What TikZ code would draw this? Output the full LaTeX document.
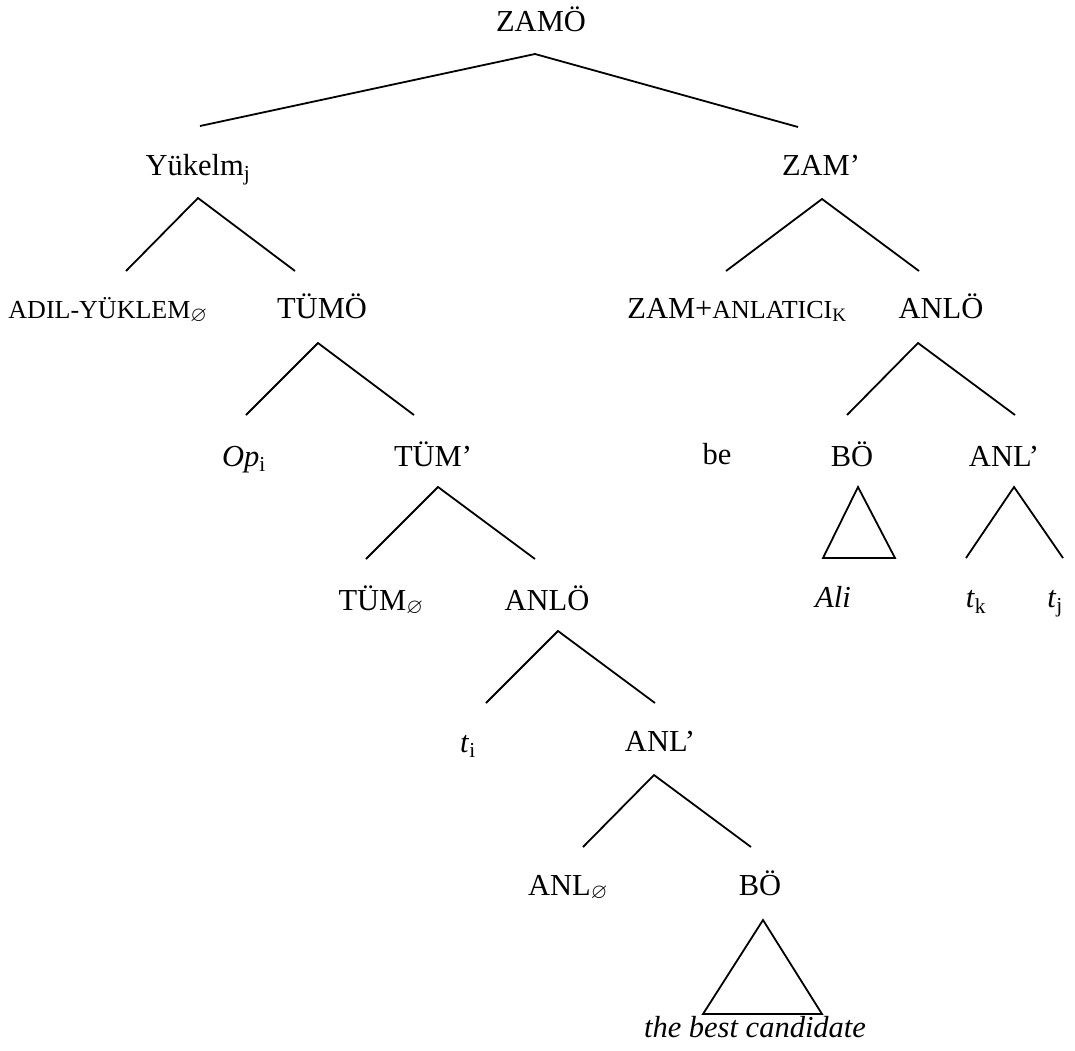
\documentclass[tikz,border=0pt]{standalone}
\usepackage{fontspec}
\usepackage{amssymb}
\setmainfont{Liberation Serif}
\newcommand\smc[1]{{\fontsize{26}{26}\selectfont #1}}
\newcommand\sub[1]{\textsubscript{#1}}

\begin{document}
\begin{tikzpicture}[x=1pt,y=-1pt,line width=1.8pt,
        lbl/.style={anchor=base,inner sep=0pt,font=\fontsize{30.5}{36}\selectfont}]
            \useasboundingbox (0,0) rectangle (1075,1050);
            % etiketler
            \node[lbl] (zamo) at (541,31) {ZAMÖ};
            \node[lbl] (yuk) at (198,175) {Yükelm\sub{j}};
            \node[lbl] (zamp) at (821,175) {ZAM'};
            \node[lbl] (adil) at (108,318) {\smc{ADIL-YÜKLEM}\sub{$\varnothing$}};
            \node[lbl] (tumo) at (322,318) {TÜMÖ};
            \node[lbl] (zamanl) at (737,318) {ZAM+\smc{ANLATICI}\sub{\fontsize{19}{19}\selectfont K}};
            \node[lbl] (anlo) at (941,318) {ANLÖ};
            \node[lbl] (op) at (244,466) {\textit{Op}\sub{i}};
            \node[lbl] (tump) at (433,466) {TÜM'};
            \node[lbl] (be) at (717,464) {be};
            \node[lbl] (bo) at (852,466) {BÖ};
            \node[lbl] (anlp) at (1004,466) {ANL'};
            \node[lbl] (tum) at (381,610) {TÜM\sub{$\varnothing$}};
            \node[lbl] (anloo) at (547,610) {ANLÖ};
            \node[lbl] (ali) at (833,607) {\textit{Ali}};
            \node[lbl] (tk) at (976,607) {\textit{t}\sub{k}};
            \node[lbl] (tj) at (1055,607) {\textit{t}\sub{j}};
            \node[lbl] (ti) at (468,752) {\textit{t}\sub{i}};
            \node[lbl] (anlpp) at (660,751) {ANL'};
            \node[lbl] (anl) at (568,895) {ANL\sub{$\varnothing$}};
            \node[lbl] (boo) at (760,895) {BÖ};
            \node[lbl] (cand) at (755,1037) {\textit{the best candidate}};
            % dallar
            \coordinate (zamo-t) at (535,54);   \coordinate (zamo-l) at (200,126);  \coordinate (zamo-r) at (798,127);
            \coordinate (yuk-t) at (198,198);   \coordinate (yuk-l) at (126,271);   \coordinate (yuk-r) at (295,271);
            \coordinate (zamp-t) at (822,199);  \coordinate (zamp-l) at (726,271);  \coordinate (zamp-r) at (919,271);
            \coordinate (tumo-t) at (318,343);  \coordinate (tumo-l) at (246,415);  \coordinate (tumo-r) at (414,415);
            \coordinate (anlo-t) at (918,343);  \coordinate (anlo-l) at (847,415);  \coordinate (anlo-r) at (1015,415);
            \coordinate (tump-t) at (438,487);  \coordinate (tump-l) at (366,559);  \coordinate (tump-r) at (535,559);
            \coordinate (anlp-t) at (1014,487); \coordinate (anlp-l) at (966,558);  \coordinate (anlp-r) at (1063,558);
            \coordinate (anloo-t) at (558,631); \coordinate (anloo-l) at (486,703); \coordinate (anloo-r) at (655,703);
            \coordinate (anlpp-t) at (654,775); \coordinate (anlpp-l) at (583,847); \coordinate (anlpp-r) at (751,847);
            \foreach \n in {zamo,yuk,zamp,tumo,anlo,tump,anlp,anloo,anlpp}
                \draw (\n-l) -- (\n-t) -- (\n-r);
            % ucgenler
            \coordinate (bo-t) at (858,487);  \coordinate (bo-l) at (823,558);   \coordinate (bo-r) at (895,558);
            \coordinate (boo-t) at (763,920); \coordinate (boo-l) at (703,1014); \coordinate (boo-r) at (822,1014);
            \draw (bo-t) -- (bo-l) -- (bo-r) -- cycle;
            \draw (boo-t) -- (boo-l) -- (boo-r) -- cycle;
        \end{tikzpicture}
\end{document}
